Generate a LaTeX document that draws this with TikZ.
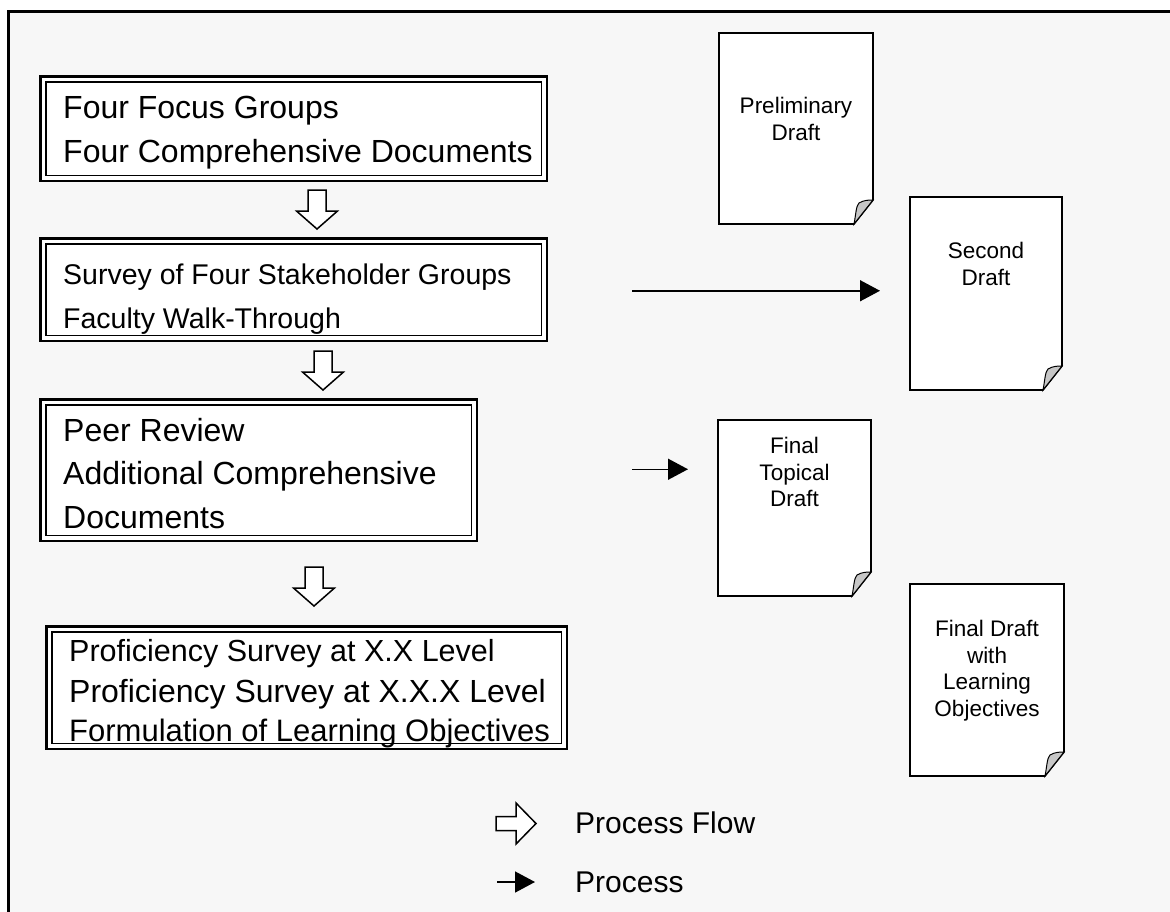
\documentclass[tikz,border=0pt]{standalone}
\usepackage{fontspec}
\setmainfont{Liberation Sans}
\usetikzlibrary{arrows.meta,calc}
\newcommand{\procboxat}[5]{%
  \node[procbox, minimum width={#4-#2}, minimum height={#5-#3}] (#1) at ({(#2+#4)/2},{(#3+#5)/2}) {};
  \draw[innerline] ([shift={(5.5,5.5)}]#1.north west) rectangle ([shift={(-5.5,-5.5)}]#1.south east);
}
\newcommand{\docat}[5]{%
  \node[docnode, minimum width={#4-#2}, minimum height={#5-#3}] (#1) at ({(#2+#4)/2},{(#3+#5)/2}) {};
  \draw[docbody] (#1.north west) -- (#1.north east) -- ($(#1.south east)+(0,-24)$) -- ($(#1.south east)+(-19,0)$) -- (#1.south west) -- cycle;
  \draw[fold] ($(#1.south east)+(-19,0)$) .. controls ($(#1.south east)+(-17,-10)$) and ($(#1.south east)+(-17,-18)$) .. ($(#1.south east)+(-14,-21)$) .. controls ($(#1.south east)+(-9,-24)$) and ($(#1.south east)+(-4,-24)$) .. ($(#1.south east)+(0,-24)$) -- cycle;
}
\newcommand{\flowdown}[2]{%
  \draw[flow] ({#1-9},#2) -- ({#1+9},#2) -- ({#1+9},{#2+21}) -- ({#1+20.5},{#2+21}) -- (#1,{#2+39}) -- ({#1-20.5},{#2+21}) -- ({#1-9},{#2+21}) -- cycle;
}
\begin{document}
\begin{tikzpicture}[x=1pt,y=-1pt,
  frame/.style={line width=3pt},
  procbox/.style={draw, line width=2.6pt, fill=white, inner sep=0pt, outer sep=0pt},
  innerline/.style={line width=1.4pt},
  linetext/.style={anchor=base west, inner sep=0pt},
  doctext/.style={anchor=north, inner sep=0pt, font=\fontsize{22.5}{26.5}\selectfont, align=center},
  docnode/.style={inner sep=0pt, outer sep=0pt},
  docbody/.style={draw, line width=1.6pt, fill=white, line join=miter},
  fold/.style={draw, line width=1pt, fill=black!22},
  flow/.style={draw, line width=1.5pt, fill=white, line join=miter},
  proc/.style={line width=1.5pt, -{Triangle[length=20pt,width=21pt]}},
  legtext/.style={anchor=base west, inner sep=0pt, font=\fontsize{30}{36}\selectfont},
]
\useasboundingbox (0,0) rectangle (1170,911);
\begin{scope}
\clip (0,0) rectangle (1170,911);
\fill[white] (0,0) rectangle (1170,911);
\fill[black!3] (8.5,11.5) rectangle (1200,940);
\draw[frame] (1200,11.5) -- (8.5,11.5) -- (8.5,940);
\end{scope}

% process boxes
\procboxat{b1}{40.5}{76.5}{547}{181}
\procboxat{b2}{40.5}{238.5}{547}{341}
\procboxat{b3}{40.5}{399.5}{477}{541}
\procboxat{b4}{46.5}{626.5}{567}{749}

\node[linetext, font=\fontsize{32}{40}\selectfont] (t1a) at (63,118) {Four Focus Groups};
\node[linetext, font=\fontsize{32}{40}\selectfont] (t1b) at (63,162) {Four Comprehensive Documents};
\node[linetext, font=\fontsize{28.5}{40}\selectfont] (t2a) at (63,284) {Survey of Four Stakeholder Groups};
\node[linetext, font=\fontsize{28.5}{40}\selectfont] (t2b) at (63,328) {Faculty Walk-Through};
\node[linetext, font=\fontsize{32}{40}\selectfont] (t3a) at (63,441) {Peer Review};
\node[linetext, font=\fontsize{32}{40}\selectfont] (t3b) at (63,484) {Additional Comprehensive};
\node[linetext, font=\fontsize{32}{40}\selectfont] (t3c) at (63,528) {Documents};
\node[linetext, font=\fontsize{30.5}{36}\selectfont] (t4a) at (69,661) {Proficiency Survey at X.X Level};
\node[linetext, font=\fontsize{32}{36}\selectfont] (t4b) at (69,702) {Proficiency Survey at X.X.X Level};
\node[linetext, font=\fontsize{31}{36}\selectfont] (t4c) at (69,741) {Formulation of Learning Objectives};

% process flow arrows
\flowdown{317}{190}
\flowdown{323}{351}
\flowdown{314}{567}

% documents
\docat{d1}{719}{33}{873}{224}
\docat{d2}{910}{197}{1062}{390}
\docat{d3}{718}{420}{871}{596}
\docat{d4}{910}{584}{1064}{776}

\node[doctext] (d1t) at (796,97) {Preliminary\\Draft};
\node[doctext] (d2t) at (986,242) {Second\\Draft};
\node[doctext] (d3t) at (794.5,437) {Final\\Topical\\Draft};
\node[doctext] (d4t) at (987,620) {Final Draft\\with\\Learning\\Objectives};

% process connectors
\coordinate (p1s) at ($(b2.east)+(85,1)$);
\draw[proc] (p1s) -- ($(p1s -| d2.west)+(-30,0)$);
\coordinate (p2s) at ($(b3.east)+(155,-1)$);
\draw[proc] (p2s) -- ($(p2s -| d3.west)+(-30,0)$);

% legend
\draw[flow] (496,816.5) -- (516,816.5) -- (516,803) -- (536,823.5) -- (516,844) -- (516,830.5) -- (496,830.5) -- cycle;
\node[legtext] (l1) at (575,833) {Process Flow};
\coordinate (l2s) at (497,882);
\coordinate (l2e) at (535,882);
\draw[proc] (l2s) -- (l2e);
\node[legtext] (l2) at (575,892) {Process};
\end{tikzpicture}
\end{document}
